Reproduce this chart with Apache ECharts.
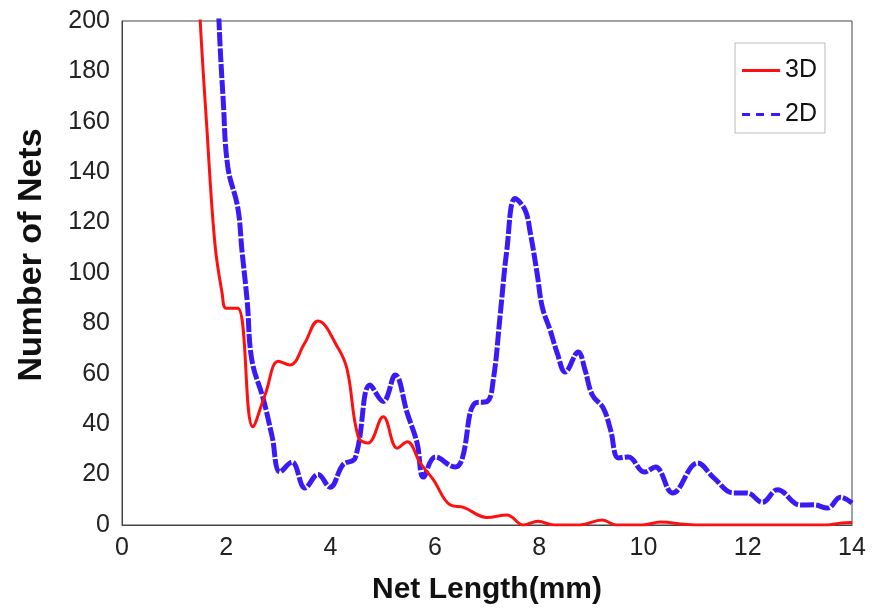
<!DOCTYPE html>
<html><head><meta charset="utf-8">
<script src="https://cdn.jsdelivr.net/npm/echarts@6/dist/echarts.min.js"></script>
<style>html,body{margin:0;padding:0;background:#fff}#c{width:886px;height:610px}</style>
</head><body><div id="c"></div>
<script>
const xTicks = [0, 2, 4, 6, 8, 10, 12, 14];
const yTicks = [0, 20, 40, 60, 80, 100, 120, 140, 160, 180, 200];
const seriesNames = ['3D', '2D'];

const x3D = [1.40, 1.50, 1.62, 1.78, 1.92, 2.0, 2.22, 2.51, 2.75, 3.0, 3.22, 3.5, 3.76, 4.15, 4.32, 4.53, 4.72, 5.01, 5.28, 5.47, 5.72, 5.97, 6.29, 6.55, 7.0, 7.38, 7.7, 7.98, 8.28, 8.78, 9.21, 9.48, 9.98, 10.33, 10.78, 11.0, 13.5, 13.8, 14.0];
const y3D = [245, 200, 160, 112, 92, 86, 86, 39, 52, 65, 63.5, 72, 81, 70, 61.5, 35, 32.5, 43, 30.5, 33, 24.6, 18, 8, 7, 3, 4, 0, 1.5, 0, 0, 2, 0, 0, 1.2, 0.3, 0, 0, 0.8, 1];

const x2D = [1.80, 1.86, 1.94, 2.03, 2.22, 2.30, 2.40, 2.49, 2.71, 2.88, 3.03, 3.26, 3.51, 3.76, 3.99, 4.24, 4.47, 4.76, 5.01, 5.24, 5.47, 5.66, 5.78, 6.01, 6.39, 6.52, 6.77, 7.0, 7.12, 7.25, 7.38, 7.54, 7.73, 7.83, 7.96, 8.06, 8.21, 8.35, 8.5, 8.75, 8.88, 9.02, 9.23, 9.37, 9.52, 9.71, 10.02, 10.23, 10.56, 11.04, 11.35, 11.73, 11.99, 12.28, 12.57, 13.01, 13.27, 13.53, 13.78, 14.0];
const y2D = [240, 200, 169, 142, 126, 109, 89, 65.5, 50, 35, 21, 25, 14.7, 20, 15, 24, 26.5, 55.6, 49, 59.5, 44.4, 32.5, 19, 27, 23, 26, 48.4, 49, 57.5, 82.7, 109, 129.6, 125, 116, 100, 86.5, 77.4, 68, 60.7, 68.7, 61.5, 51.6, 46.4, 37.7, 26.6, 27, 21, 23, 12.7, 24.6, 18.7, 12.7, 12.7, 9, 14, 7.9, 8, 6.7, 11, 8.7];

const pairs = (xs, ys) => xs.map((x, i) => [x, ys[i]]);
const FONT = 'Liberation Sans, Arial, Helvetica, sans-serif';
const RED = '#ff1010';
const BLUE = '#3a1af5';

const chart = echarts.init(document.getElementById('c'), null, {renderer: 'canvas'});
chart.setOption({
  animation: false,
  backgroundColor: '#fff',
  textStyle: {fontFamily: FONT},
  grid: {left: 122, right: 34, top: 21, bottom: 85, show: true, borderColor: '#444', borderWidth: 1},
  legend: {
    orient: 'vertical', right: 61, top: 43,
    data: [
      {name: seriesNames[0], icon: 'path://M0,0H38V3H0Z'},
      {name: seriesNames[1], icon: 'path://M0,0H8V3H0Z M14,0H22V3H14Z M29,0H38V3H29Z'}
    ],
    itemWidth: 38, itemHeight: 4, itemGap: 19, itemTextGap: 7,
    padding: [15, 8, 6, 7],
    borderColor: '#bbb', borderWidth: 1,
    textStyle: {fontSize: 25, color: '#111', fontFamily: FONT}
  },
  graphic: [{
    type: 'text', x: 32, y: 255, rotation: Math.PI / 2,
    style: {
      text: 'Number of Nets', align: 'center', verticalAlign: 'middle',
      font: 'bold 34px ' + FONT, fill: '#111'
    }
  }],
  xAxis: {
    type: 'value', min: xTicks[0], max: xTicks[xTicks.length - 1], interval: 2,
    name: 'Net Length(mm)', nameLocation: 'middle', nameGap: 50,
    nameTextStyle: {fontSize: 30, fontWeight: 'bold', color: '#111', fontFamily: FONT},
    axisLine: {lineStyle: {color: '#444', width: 1}},
    axisTick: {show: false},
    splitLine: {show: false},
    axisLabel: {fontSize: 25, color: '#222', margin: 11, fontFamily: FONT}
  },
  yAxis: {
    type: 'value', min: yTicks[0], max: yTicks[yTicks.length - 1], interval: 20,
    axisLine: {show: true, lineStyle: {color: '#444', width: 1}},
    axisTick: {show: false},
    splitLine: {show: false},
    axisLabel: {fontSize: 25, color: '#222', margin: 12, fontFamily: FONT}
  },
  series: [
    {
      name: seriesNames[0], type: 'line', data: pairs(x3D, y3D),
      showSymbol: false, symbol: 'none', smooth: 0.4, clip: true,
      lineStyle: {color: RED, width: 3}, itemStyle: {color: RED}, z: 3
    },
    {
      name: seriesNames[1], type: 'line', data: pairs(x2D, y2D),
      showSymbol: false, symbol: 'none', smooth: 0.4, clip: true,
      lineStyle: {color: BLUE, width: 5, type: [14, 2]}, itemStyle: {color: BLUE}, z: 2
    }
  ]
});
</script></body></html>
